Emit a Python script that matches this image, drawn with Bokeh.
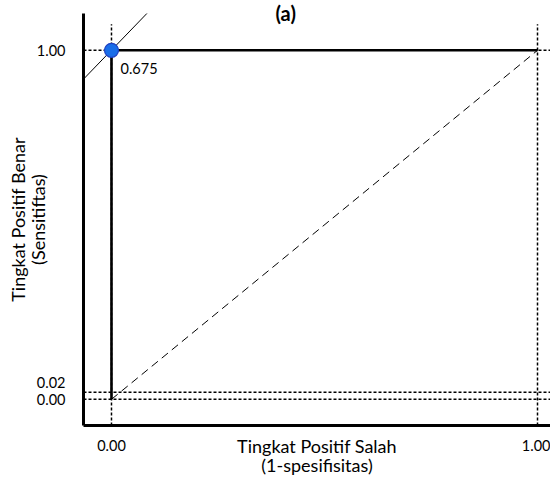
from bokeh.plotting import figure
from bokeh.models import Range1d, FixedTicker, Span, Title
from bokeh.core.properties import value
from bokeh.embed import file_html
from bokeh.resources import INLINE

# ---- data ----
roc_x = [0.0, 0.0, 1.0]
roc_y = [0.0, 1.0, 1.0]
chance_x = [0.0, 1.0]
chance_y = [0.0, 1.0]
tangent_x = [-0.066, 0.085]
tangent_y = [0.917, 1.108]
opt_x = [0.0]
opt_y = [1.0]
opt_label = ["0.675"]
hline_y = [0.0, 0.02, 1.0]
vline_x = [0.0, 1.0]
x_ticks = [0.0, 1.0]
x_tick_labels = ["0.00", "1.00"]
y_ticks = [0.0, 0.02, 1.0]
y_tick_labels = ["0.00", "0.02", "1.00"]
title_text = "(a)"
x_title = ["Tingkat Positif Salah", "(1-spesifisitas)"]
y_title = ["Tingkat Positif Benar", "(Sensitiftas)"]

FONT = "Lato"
X0, X1 = -0.0657, 1.0305
Y0, Y1 = -0.075, 1.1055

p = figure(width=550, height=479, x_range=Range1d(X0, X1), y_range=Range1d(Y0, Y1),
           output_backend="svg", toolbar_location=None,
           min_border_left=83, min_border_right=0, min_border_top=13, min_border_bottom=52)
p.outline_line_color = None
p.grid.visible = False

# title, partly overlapping the top margin
p.add_layout(Title(text=title_text, align="left", offset=192, standoff=-23,
                   text_font=FONT, text_font_style="bold", text_font_size="20px",
                   text_color="black"), "above")

for ax in (p.xaxis[0], p.yaxis[0]):
    ax.axis_line_width = 3
    ax.axis_line_color = "black"
    ax.major_tick_line_color = None
    ax.minor_tick_line_color = None
    ax.major_tick_out = 0
    ax.major_tick_in = 0
    ax.major_label_text_font = FONT
    ax.major_label_text_font_size = "14.5px"
    ax.major_label_text_color = "black"
    ax.axis_label_text_font = FONT
    ax.axis_label_text_font_size = "18px"
    ax.axis_label_text_font_style = "normal"
    ax.axis_label_text_color = "black"
    ax.axis_label_text_line_height = 0.9

p.xaxis.ticker = FixedTicker(ticks=x_ticks)
p.xaxis.major_label_overrides = dict(zip(x_ticks, x_tick_labels))
p.xaxis.major_label_standoff = 14
p.xaxis.axis_label = "\n".join(x_title)
p.xaxis.axis_label_standoff = -19

# the 0.02 label is lifted by one blank line so it does not collide with 0.00
ylab = dict(zip(y_ticks, y_tick_labels))
ylab[0.02] = ylab[0.02] + "\n "
p.yaxis.ticker = FixedTicker(ticks=y_ticks)
p.yaxis.major_label_overrides = ylab
p.yaxis.major_label_standoff = 18
p.yaxis.axis_label = "\n".join(y_title)
p.yaxis.axis_label_standoff = -15

# dotted guide lines
for yv in hline_y:
    p.add_layout(Span(location=yv, dimension="width", line_color="black",
                      line_dash="3 2", line_width=1.5, level="underlay"))
guide_top = 1.075
p.segment(x0=vline_x, y0=[Y0] * len(vline_x), x1=vline_x, y1=[guide_top] * len(vline_x),
          line_color="black", line_dash="3 2", line_width=1.5, level="underlay")

# chance diagonal
p.line(chance_x, chance_y, line_color="black", line_dash="8 5", line_width=1)
# tangent line
p.line(tangent_x, tangent_y, line_color="black", line_width=1)
# ROC curve
p.line(roc_x, roc_y, line_color="black", line_width=2.6)
# optimal point
p.scatter(opt_x, opt_y, size=14, fill_color="#1a6ee8", line_color="#2040c0", line_width=1.2)
p.text(opt_x, opt_y, text=opt_label, x_offset=9, y_offset=18, text_baseline="middle",
       text_align="left", text_font=value(FONT), text_font_size="14.5px", text_color="black")

open("out.html", "w").write(file_html(p, INLINE))
